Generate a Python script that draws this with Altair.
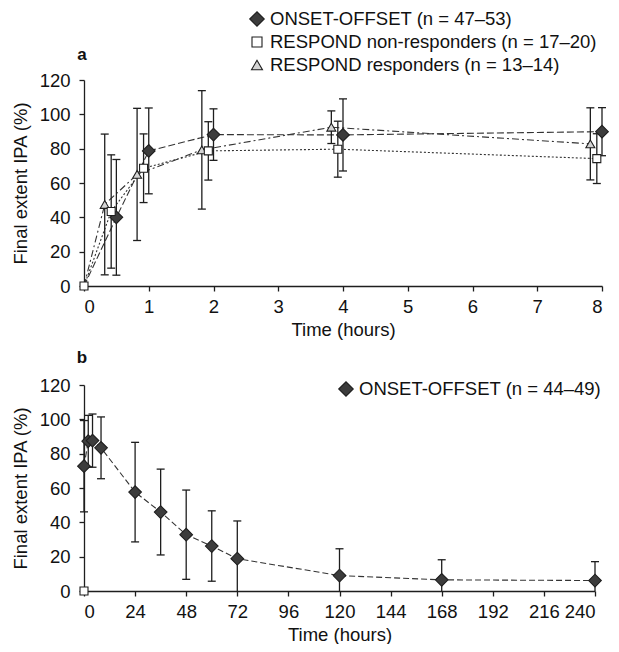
import altair as alt
import pandas as pd

FONT = "Liberation Sans"
INK = "#1e1e1e"
FS = 18.5

# ---------------- Panel a data ----------------
series_a = ["ONSET-OFFSET (n = 47–53)",
            "RESPOND non-responders (n = 17–20)",
            "RESPOND responders (n = 13–14)"]

on_t = [0, 0.5, 1, 2, 4, 8]
on_v = [0, 40.0, 78.7, 88.2, 88.0, 89.9]
on_sd = [0, 33.7, 25.0, 15.0, 21.0, 14.0]

nr_t = [0, 0.42, 0.92, 1.92, 3.92, 7.92]
nr_v = [0, 43.4, 68.6, 78.7, 79.7, 74.2]
nr_sd = [0, 33.0, 20.0, 17.0, 16.3, 14.5]

rs_t = [0, 0.32, 0.82, 1.82, 3.82, 7.82]
rs_v = [0, 47.5, 65.0, 79.3, 92.5, 82.8]
rs_sd = [0, 41.0, 38.5, 34.5, 9.5, 21.0]

# ---------------- Panel b data ----------------
series_b = ["ONSET-OFFSET (n = 44–49)"]
b_t = [0, 2, 4, 8, 24, 36, 48, 60, 72, 120, 168, 240]
b_v = [72.7, 87.3, 87.6, 83.4, 57.6, 46.0, 32.8, 26.2, 18.8, 9.0, 6.5, 6.1]
b_sd = [26.6, 15.0, 15.5, 18.0, 29.0, 25.0, 26.0, 20.5, 22.0, 15.6, 11.7, 11.0]
b_base_t = [0]
b_base_v = [0]

x_ticks_a = [0, 1, 2, 3, 4, 5, 6, 7, 8]
x_ticks_b = [0, 24, 48, 72, 96, 120, 144, 168, 192, 216, 240]
y_ticks = [0, 20, 40, 60, 80, 100, 120]


def rows(name, ts, vs, sds):
    return [{"s": name, "t": t, "v": v, "sd": sd} for t, v, sd in zip(ts, vs, sds)]


df_a = pd.DataFrame(rows(series_a[0], on_t, on_v, on_sd)
                    + rows(series_a[1], nr_t, nr_v, nr_sd)
                    + rows(series_a[2], rs_t, rs_v, rs_sd))
df_b = pd.DataFrame(rows(series_b[0], b_t, b_v, b_sd))
df_b_base = pd.DataFrame({"t": b_base_t, "v": b_base_v})

# marker styles: (shape, fill, data size, legend size)
STY = [("diamond", "#3c3c3c", 160, 210),
       ("square", "white", 64, 100),
       ("triangle-up", "#d4d4d4", 80, 120)]
DASHES = [[7, 3], [2, 2], [7, 3, 2, 3]]


def panel(df, series, styles, dashes, xdom, xticks, leg_x, leg_y0, leg_dy, label,
          lab_x, lab_y, skip_origin):
    base = alt.Chart(df).transform_calculate(
        lo="max(0, datum.v - datum.sd)", hi="datum.v + datum.sd"
    )
    xsc = alt.Scale(domain=xdom, nice=False, zero=False)
    ysc = alt.Scale(domain=[0, 120], nice=False)
    xax = alt.Axis(values=xticks, title="Time (hours)", format="d", labelOverlap=False)
    yax = alt.Axis(values=y_ticks, tickCount=7, title="Final extent IPA (%)", format="d",
                   labelOverlap=False)

    def X(f):
        return alt.X(f, scale=xsc, axis=xax)

    def Y(f):
        return alt.Y(f, scale=ysc, axis=yax)

    layers = [base.mark_line(color="#333333", strokeWidth=1.1).encode(
        x=X("t:Q"), y=Y("v:Q"),
        strokeDash=alt.StrokeDash("s:N", scale=alt.Scale(domain=series, range=dashes), legend=None),
    )]
    eb = base.transform_filter("datum.sd > 0")
    layers.append(eb.mark_rule(color=INK, strokeWidth=1.3).encode(
        x=X("t:Q"), y=Y("lo:Q"), y2="hi:Q"))
    layers.append(eb.mark_rule(color=INK, strokeWidth=1.3, xOffset=-4, x2Offset=4).encode(
        x=X("t:Q"), x2="t:Q", y=Y("hi:Q")))
    layers.append(eb.transform_filter("datum.lo > 0").mark_rule(
        color=INK, strokeWidth=1.3, xOffset=-4, x2Offset=4).encode(
        x=X("t:Q"), x2="t:Q", y=Y("lo:Q")))

    order = list(range(len(series)))
    order = [i for i in order if styles[i][0] != "square"] + [i for i in order if styles[i][0] == "square"]
    for i in order:
        shp, fill, sz, _ = styles[i]
        flt = alt.datum.s == series[i]
        if skip_origin and shp != "square":
            flt = flt & (alt.datum.t > 0)
        layers.append(base.transform_filter(flt).mark_point(
            shape=shp, filled=True, fill=fill, stroke=INK, strokeWidth=1.1, size=sz, opacity=1
        ).encode(x=X("t:Q"), y=Y("v:Q")))

    # legend (manual)
    for i, name in enumerate(series):
        shp, fill, _, lsz = styles[i]
        ld = alt.Chart(pd.DataFrame({"s": [name]}))
        yy = leg_y0 + leg_dy * i
        layers.append(ld.mark_point(shape=shp, filled=True, fill=fill, stroke=INK, strokeWidth=1.1,
                                    size=lsz, opacity=1).encode(x=alt.value(leg_x), y=alt.value(yy)))
        layers.append(ld.mark_text(font=FONT, fontSize=FS, color="#111", align="left",
                                   baseline="middle").encode(
            text="s:N", x=alt.value(leg_x + 13), y=alt.value(yy)))

    layers.append(alt.Chart(pd.DataFrame({"l": [label]})).mark_text(
        font=FONT, fontSize=17, fontWeight="bold", color="#111", align="center", baseline="middle"
    ).encode(text="l:N", x=alt.value(lab_x), y=alt.value(lab_y)))
    return layers


layers_a = panel(df_a, series_a, STY, DASHES, [0, 8], x_ticks_a,
                 173, -61, 23, "a", -2, -25, True)
chart_a = alt.layer(*layers_a).properties(width=518, height=206)

layers_b = panel(df_b, series_b, [STY[0]], [[6, 3]], [0, 240], x_ticks_b,
                 262, 4, 0, "b", -2, -27, False)
layers_b.append(alt.Chart(df_b_base).mark_point(
    shape="square", filled=True, fill="white", stroke=INK, strokeWidth=1.1, size=64, opacity=1
).encode(x="t:Q", y="v:Q"))
chart_b = alt.layer(*layers_b).properties(width=511, height=206)

chart = alt.vconcat(chart_a, chart_b, spacing=10).resolve_scale(
    x="independent", y="independent", strokeDash="independent"
).properties(
    padding={"left": 3, "top": 1, "right": 0, "bottom": 0}
).configure_view(stroke=None).configure_axis(
    grid=False, domainColor=INK, tickColor=INK, domainWidth=1.3, tickWidth=1.3, tickSize=5,
    labelFont=FONT, labelFontSize=FS, labelColor="#111", labelOverlap=False,
    titleFont=FONT, titleFontSize=FS, titleFontWeight="normal", titleColor="#111",
).configure_axisY(titlePadding=9, labelPadding=9).configure_axisX(titlePadding=5, labelPadding=6)

chart.save("out.html", embed_options={"renderer": "svg", "actions": False})
